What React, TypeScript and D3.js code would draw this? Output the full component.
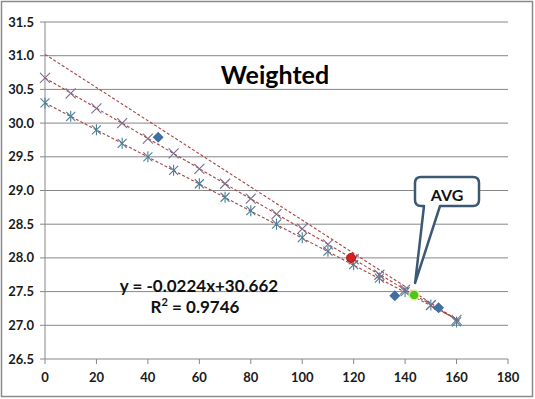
import React from "react";
import * as d3 from "d3";

const xTicks = [0, 20, 40, 60, 80, 100, 120, 140, 160, 180];
const yTicks = [26.5, 27.0, 27.5, 28.0, 28.5, 29.0, 29.5, 30.0, 30.5, 31.0, 31.5];

const xs = [0, 10, 20, 30, 40, 50, 60, 70, 80, 90, 100, 110, 120, 130, 140, 150, 160];
const lowerY = [30.3, 30.1, 29.9, 29.7, 29.5, 29.3, 29.1, 28.9, 28.7, 28.5, 28.3, 28.1, 27.9, 27.7, 27.5, 27.3, 27.05];
const middleY = [30.67, 30.44, 30.22, 30.0, 29.77, 29.55, 29.32, 29.1, 28.88, 28.65, 28.43, 28.2, 27.98, 27.75, 27.53, 27.3, 27.08];

const diamondX = [44, 136, 153];
const diamondY = [29.79, 27.44, 27.26];

const redPoint = [119, 28.0];
const avgPoint = [143.5, 27.45];

// trendlines: [x0, y0, x1, y1]
const trendUpper = [0, 31.02, 161, 27.06];
const trendMiddle = [0, 30.67, 161, 27.06];
const trendLower = [0, 30.3, 161, 27.07];

const W = 535, H = 399;
const FONT = "Lato, 'Open Sans', sans-serif";

export default function App() {
  const x = d3.scaleLinear().domain([0, 180]).range([45, 508]);
  const y = d3.scaleLinear().domain([26.5, 31.5]).range([359, 22]);
  const line = d3.line<[number, number]>().x(d => x(d[0])).y(d => y(d[1]));
  const trends = [trendUpper, trendMiddle, trendLower];
  const ds = 5.5;
  const diamond = `M0,${-ds} L${ds},0 L0,${ds} L${-ds},0 Z`;

  const tip: [number, number] = [x(avgPoint[0]) + 1, y(avgPoint[1]) - 12];
  const bx0 = 415, bx1 = 479, by0 = 177, by1 = 206, r = 6;
  const calloutPath =
    `M${bx0 + r},${by0} L${bx1 - r},${by0} Q${bx1},${by0} ${bx1},${by0 + r} ` +
    `L${bx1},${by1 - r} Q${bx1},${by1} ${bx1 - r},${by1} L440,${by1} L${tip[0]},${tip[1]} L424,${by1} ` +
    `L${bx0 + r},${by1} Q${bx0},${by1} ${bx0},${by1 - r} L${bx0},${by0 + r} Q${bx0},${by0} ${bx0 + r},${by0} Z`;

  return (
    <svg width={W} height={H} style={{ position: "absolute", left: 0, top: 0 }} fontFamily={FONT}>
      <rect x={0} y={0} width={W} height={H} fill="#fff" />
      <rect x={1.5} y={1.5} width={531} height={395} fill="none" stroke="#8a8a8a" strokeWidth={1.5} />

      {/* gridlines */}
      {yTicks.map(t => (
        <line key={"g" + t} x1={x(0)} x2={x(180)} y1={y(t)} y2={y(t)} stroke="#878787" strokeWidth={1} />
      ))}
      {/* y axis */}
      <line x1={x(0)} x2={x(0)} y1={y(31.5)} y2={y(26.5)} stroke="#878787" strokeWidth={1} />
      {yTicks.map(t => (
        <line key={"yt" + t} x1={x(0) - 5} x2={x(0)} y1={y(t)} y2={y(t)} stroke="#878787" />
      ))}
      {yTicks.map(t => (
        <text key={"yl" + t} x={34} y={y(t) + 4.5} textAnchor="end" fontSize={13} fontWeight="bold" fill="#1a1a1a">
          {t.toFixed(1)}
        </text>
      ))}
      {/* x ticks */}
      {xTicks.map(t => (
        <line key={"xt" + t} x1={x(t)} x2={x(t)} y1={y(26.5)} y2={y(26.5) + 5} stroke="#878787" />
      ))}
      {xTicks.map(t => (
        <text key={"xl" + t} x={x(t)} y={382} textAnchor="middle" fontSize={13} fontWeight="bold" fill="#1a1a1a">
          {t}
        </text>
      ))}

      {/* trendlines */}
      {trends.map((t, i) => (
        <path key={"tr" + i} d={line([[t[0], t[1]], [t[2], t[3]]]) || ""} fill="none"
          stroke="#a8423f" strokeWidth={1.1} strokeDasharray="3,2" />
      ))}

      {/* lower series: star markers */}
      {xs.map((v, i) => {
        const cx = x(v), cy = y(lowerY[i]), s = 4.5;
        return (
          <g key={"s" + i} stroke="#4a7f96" strokeWidth={1.1}>
            <line x1={cx - s} y1={cy - s} x2={cx + s} y2={cy + s} />
            <line x1={cx - s} y1={cy + s} x2={cx + s} y2={cy - s} />
            <line x1={cx} y1={cy - s - 1} x2={cx} y2={cy + s + 1} />
          </g>
        );
      })}
      {/* middle series: x markers */}
      {xs.map((v, i) => {
        const cx = x(v), cy = y(middleY[i]), s = 5;
        return (
          <g key={"x" + i} stroke="#7c6b8a" strokeWidth={1.1}>
            <line x1={cx - s} y1={cy - s} x2={cx + s} y2={cy + s} />
            <line x1={cx - s} y1={cy + s} x2={cx + s} y2={cy - s} />
          </g>
        );
      })}
      {/* diamonds */}
      {diamondX.map((v, i) => (
        <path key={"d" + i} d={diamond} transform={`translate(${x(v)},${y(diamondY[i])})`} fill="#41709f" />
      ))}
      {/* red point */}
      <circle cx={x(redPoint[0])} cy={y(redPoint[1])} r={4.5} fill="#d42020" stroke="#a81818" strokeWidth={1} />
      {/* avg point */}
      <circle cx={x(avgPoint[0])} cy={y(avgPoint[1])} r={6} fill="#e8f3a0" opacity={0.8} />
      <circle cx={x(avgPoint[0])} cy={y(avgPoint[1])} r={4.3} fill="#4fc41f" />

      {/* callout */}
      <path d={calloutPath} fill="#fff" stroke="#3d5873" strokeWidth={2.5} strokeLinejoin="round" />
      <text x={(bx0 + bx1) / 2} y={201} textAnchor="middle" fontSize={16} fontWeight="bold" fill="#111">AVG</text>

      {/* title */}
      <text x={275} y={84} textAnchor="middle" fontSize={25} fontWeight="bold" fill="#000">Weighted</text>

      {/* equation */}
      <text x={199} y={292} textAnchor="middle" fontSize={17} fontWeight="bold" fill="#111">y = -0.0224x+30.662</text>
      <text x={195} y={313} textAnchor="middle" fontSize={17} fontWeight="bold" fill="#111">
        R<tspan dy={-7} fontSize={11}>2</tspan><tspan dy={7}> = 0.9746</tspan>
      </text>
    </svg>
  );
}
